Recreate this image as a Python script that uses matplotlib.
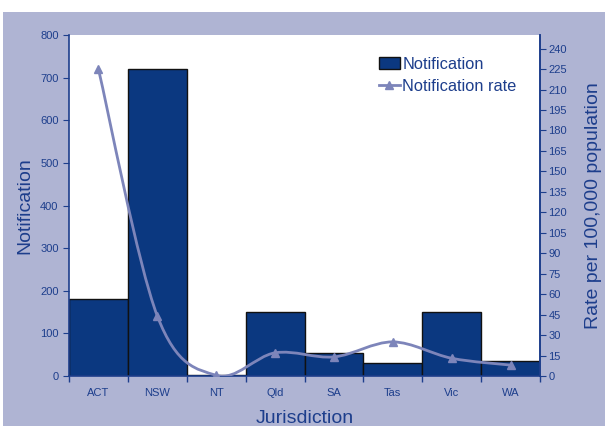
import numpy as np
import matplotlib
matplotlib.use("Agg")
import matplotlib.pyplot as plt
from matplotlib.path import Path
from matplotlib.patches import PathPatch, Rectangle
from matplotlib.lines import Line2D

jurisdictions = ["ACT", "NSW", "NT", "Qld", "SA", "Tas", "Vic", "WA"]
notifications = [180, 720, 2, 150, 53, 30, 150, 35]
rates = [225, 44, 0.5, 17, 14, 25, 13, 8]
left_ticks = list(range(0, 801, 100))
right_ticks = list(range(0, 241, 15))

bar_col = "#0B3880"
line_col = "#7D85BA"
bg_col = "#AFB4D3"
txt_col = "#1D3E8C"

plt.rcParams["font.family"] = ["Liberation Sans", "DejaVu Sans"]

fig = plt.figure(figsize=(6.05, 4.26), dpi=100)
fig.patches.append(Rectangle((0.005, 0), 0.995, 1 - 12 / 426, transform=fig.transFigure,
                             facecolor=bg_col, edgecolor="none", zorder=-10))

ax = fig.add_axes([69 / 605, 50 / 426, 471 / 605, 341 / 426])
ax.set_facecolor("white")
x = np.arange(len(jurisdictions))
ax.bar(x, notifications, width=1.0, color=bar_col, edgecolor="#111111", linewidth=1,
       label="Notification")
ax.set_xlim(-0.5, len(jurisdictions) - 0.5)
ax.set_ylim(0, 800)
ax.set_yticks(left_ticks)

ax.set_xticks(np.arange(-0.5, len(jurisdictions)), labels=[])
ax.set_xticks(x, labels=jurisdictions, minor=True)
ax.tick_params(axis="x", which="major", length=4, color=txt_col, width=1)
ax.tick_params(axis="x", which="minor", length=0, pad=9, labelsize=8, labelcolor=txt_col)
ax.tick_params(axis="y", length=4, color=txt_col, labelsize=8, labelcolor=txt_col)

for s in ["top"]:
    ax.spines[s].set_visible(False)
for s in ["left", "bottom", "right"]:
    ax.spines[s].set_color(txt_col)
    ax.spines[s].set_linewidth(1.2)

ax.set_ylabel("Notification", fontsize=14, color=txt_col, labelpad=5)
ax.set_xlabel("Jurisdiction", fontsize=14, color=txt_col, labelpad=8)

ax2 = ax.twinx()
ax2.set_ylim(0, 250)
ax2.set_yticks(right_ticks)
ax2.tick_params(axis="y", length=4, color=txt_col, labelsize=8, labelcolor=txt_col, pad=2)
for s in ["top", "left", "bottom"]:
    ax2.spines[s].set_visible(False)
ax2.spines["right"].set_color(txt_col)
ax2.spines["right"].set_linewidth(1.2)
ax2.set_ylabel("Rate per 100,000 population", fontsize=14, color=txt_col, labelpad=13)

# smooth line (Excel-like bezier through the points)
pts = np.column_stack([x, rates]).astype(float)
verts = [pts[0]]
codes = [Path.MOVETO]
n = len(pts)
for i in range(n - 1):
    p0 = pts[max(i - 1, 0)]
    p1 = pts[i]
    p2 = pts[i + 1]
    p3 = pts[min(i + 2, n - 1)]
    c1 = p1 + (p2 - p0) / 6
    c2 = p2 - (p3 - p1) / 6
    verts += [c1, c2, p2]
    codes += [Path.CURVE4] * 3
ax2.add_patch(PathPatch(Path(verts, codes), facecolor="none", edgecolor=line_col,
                        linewidth=2, zorder=3))
ax2.plot(x, rates, linestyle="none", marker="^", markersize=6, color=line_col, zorder=4)

handles = [Rectangle((0, 0), 1, 1, facecolor=bar_col, edgecolor="#111111"),
           Line2D([0], [0], color=line_col, linewidth=2, marker="^", markersize=6)]
leg = ax2.legend(handles, ["Notification", "Notification rate"], loc="upper left",
                 bbox_to_anchor=(0.64, 0.96), frameon=False, fontsize=11.8,
                 handlelength=1.3, handletextpad=0.15, labelspacing=0.45, borderpad=0)
for t in leg.get_texts():
    t.set_color(txt_col)

fig.savefig("out.png", dpi=100)
